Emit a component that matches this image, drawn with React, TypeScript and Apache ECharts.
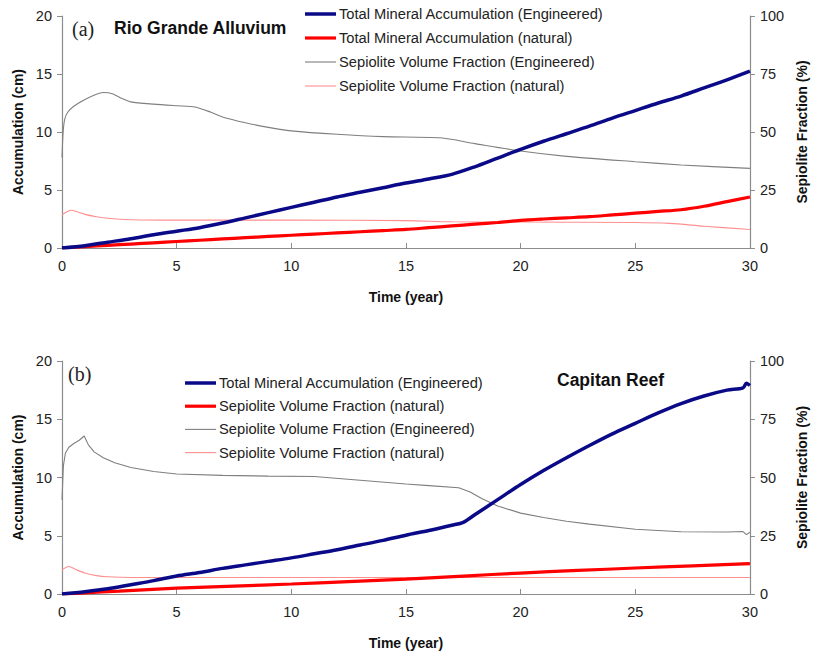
import React, { useEffect, useRef } from "react";
import * as echarts from "echarts";

// ---------- Panel (a): Rio Grande Alluvium ----------
const yearsA = [0, 1, 2, 3, 4, 5, 6, 7, 8, 9, 10, 11, 12, 13, 14, 15, 16, 17, 18, 19, 20, 21, 22, 23, 24, 25, 26, 27, 28, 29, 30];
const accEngA = [0, 0.2, 0.5, 0.8, 1.15, 1.45, 1.75, 2.15, 2.6, 3.05, 3.5, 3.95, 4.4, 4.8, 5.2, 5.6, 5.95, 6.35, 7.0, 7.75, 8.5, 9.2, 9.85, 10.5, 11.2, 11.85, 12.5, 13.1, 13.8, 14.5, 15.25];
const accNatA = [0, 0.12, 0.23, 0.34, 0.45, 0.56, 0.67, 0.78, 0.89, 1.0, 1.1, 1.2, 1.3, 1.4, 1.5, 1.6, 1.75, 1.9, 2.05, 2.2, 2.38, 2.5, 2.6, 2.7, 2.85, 3.0, 3.15, 3.3, 3.6, 4.0, 4.4];
const fracEngTimesA = [0, 0.05, 0.12, 0.25, 0.5, 1, 1.5, 1.8, 2.2, 2.6, 3, 4, 5, 5.8, 6.5, 7, 8, 9, 10, 12, 14, 16.5, 18, 20, 22, 25, 27, 30];
const fracEngA = [39, 50, 55.5, 58.5, 61, 64, 66.3, 67, 66.5, 64.5, 63, 62, 61.3, 60.8, 58.5, 56.5, 54, 52, 50.5, 49, 48, 47.5, 45, 41.8, 39.5, 37.2, 35.8, 34.3];
const fracNatTimesA = [0, 0.2, 0.4, 0.7, 1, 1.5, 2, 3, 5, 10, 15, 17, 20, 25, 26.5, 28, 30];
const fracNatA = [14.3, 15.5, 16.3, 15.5, 14.5, 13.5, 12.8, 12.2, 12, 12, 11.8, 11.3, 11.2, 11, 10.6, 9.4, 8];

// ---------- Panel (b): Capitan Reef ----------
const accEngTimesB = [0, 1, 2, 3, 4, 5, 6, 7, 8, 9, 10, 11, 12, 13, 14, 15, 16, 17, 17.5, 18, 19, 20, 21, 22, 23, 24, 25, 26, 27, 28, 29, 29.7, 29.85, 30];
const accEngB = [0, 0.2, 0.45, 0.8, 1.15, 1.55, 1.85, 2.2, 2.5, 2.8, 3.1, 3.45, 3.8, 4.2, 4.6, 5.05, 5.45, 5.9, 6.15, 6.8, 8.1, 9.4, 10.6, 11.7, 12.75, 13.75, 14.65, 15.55, 16.35, 17.0, 17.5, 17.7, 18.1, 17.9];
const accNatTimesB = [0, 1, 2.5, 5, 7.5, 10, 12.5, 15, 17.5, 20, 22.5, 25, 27.5, 30];
const accNatB = [0, 0.1, 0.25, 0.5, 0.68, 0.86, 1.07, 1.28, 1.54, 1.8, 2.02, 2.23, 2.42, 2.6];
const fracEngTimesB = [0, 0.06, 0.15, 0.3, 0.5, 0.75, 0.97, 1.15, 1.4, 1.8, 2.3, 3, 4, 5, 7, 9, 11, 13, 15, 16, 17.3, 17.8, 18.3, 19, 20, 21, 22, 23, 25, 27, 29, 29.7, 29.85, 30];
const fracEngB = [40.4, 55, 60.5, 63, 64.5, 66, 67.8, 64, 61, 58.5, 56.3, 54.3, 52.6, 51.5, 50.9, 50.6, 50.4, 48.8, 47.2, 46.5, 45.6, 43.8, 41, 37.8, 34.7, 32.8, 31.2, 30, 27.8, 26.7, 26.6, 26.8, 25.5, 26.5];
const fracNatTimesB = [0, 0.15, 0.3, 0.6, 1, 1.5, 2, 3, 30];
const fracNatB = [10.3, 11.3, 11.8, 10.5, 9, 7.9, 7.4, 7.1, 7.1];

// ---------- Axis ticks & labels ----------
const timeTicks = { min: 0, max: 30, interval: 5 };
const accTicks = { min: 0, max: 20, interval: 5 };
const fracTicks = { min: 0, max: 100, interval: 25 };

const legendLabelsA = [
  "Total Mineral Accumulation (Engineered)",
  "Total Mineral Accumulation (natural)",
  "Sepiolite Volume Fraction (Engineered)",
  "Sepiolite Volume Fraction (natural)",
];
const legendLabelsB = [
  "Total Mineral Accumulation (Engineered)",
  "Sepiolite Volume Fraction (natural)",
  "Sepiolite Volume Fraction (Engineered)",
  "Sepiolite Volume Fraction (natural)",
];
const panelTags = ["(a)", "(b)"];
const panelTitles = ["Rio Grande Alluvium", "Capitan Reef"];
const xTitle = "Time (year)";
const yLeftTitle = "Accumulation (cm)";
const yRightTitle = "Sepiolite Fraction (%)";

const NAVY = "#0a0a88";
const RED = "#ff0000";
const GREY = "#7f7f7f";
const PINK = "#ff8f8f";
const FONT = "Liberation Sans, Arial, sans-serif";
const AXIS_COLOR = "#8c8c8c";
const LABEL_COLOR = "#222";

const zip = (t: number[], v: number[]) => t.map((x, i) => [x, v[i]]);

const lineStyles = [
  { color: NAVY, width: 3.5 },
  { color: RED, width: 3.2 },
  { color: GREY, width: 1.1 },
  { color: PINK, width: 1.1 },
];

function makeXAxis(gridIndex: number) {
  return {
    type: "value",
    gridIndex,
    ...timeTicks,
    name: xTitle,
    nameLocation: "middle",
    nameGap: 42,
    nameTextStyle: { fontFamily: FONT, fontWeight: "bold", fontSize: 14, color: "#111" },
    axisLine: { show: true, onZero: false, lineStyle: { color: AXIS_COLOR, width: 1.2 } },
    axisTick: { show: true, inside: true, length: 5, lineStyle: { color: AXIS_COLOR } },
    axisLabel: { fontFamily: FONT, fontSize: 14.5, color: LABEL_COLOR, margin: 10 },
    splitLine: { show: false },
  };
}

function makeYAxes(gridIndex: number) {
  return [
    {
      type: "value",
      gridIndex,
      position: "left",
      ...accTicks,
      name: yLeftTitle,
      nameLocation: "middle",
      nameGap: 36,
      nameTextStyle: { fontFamily: FONT, fontWeight: "bold", fontSize: 14, color: "#111" },
      axisLine: { show: true, lineStyle: { color: AXIS_COLOR, width: 1.2 } },
      axisTick: { show: true, inside: false, length: 5, lineStyle: { color: AXIS_COLOR } },
      axisLabel: { fontFamily: FONT, fontSize: 14.5, color: LABEL_COLOR, margin: 10 },
      splitLine: { show: false },
    },
    {
      type: "value",
      gridIndex,
      position: "right",
      ...fracTicks,
      name: yRightTitle,
      nameLocation: "middle",
      nameGap: 44,
      nameRotate: 90,
      nameTextStyle: { fontFamily: FONT, fontWeight: "bold", fontSize: 14, color: "#111" },
      axisLine: { show: true, lineStyle: { color: AXIS_COLOR, width: 1.2 } },
      axisTick: { show: true, inside: false, length: 5, lineStyle: { color: AXIS_COLOR } },
      axisLabel: { fontFamily: FONT, fontSize: 14.5, color: LABEL_COLOR, margin: 10 },
      splitLine: { show: false },
    },
  ];
}

function lineSeries(name: string, xi: number, yi: number, data: number[][], style: { color: string; width: number }, z: number, smooth: number | boolean) {
  return {
    type: "line",
    name,
    xAxisIndex: xi,
    yAxisIndex: yi,
    data,
    showSymbol: false,
    symbol: "none",
    smooth,
    z,
    lineStyle: { color: style.color, width: style.width },
    itemStyle: { color: style.color },
  };
}

function legendGraphic(labels: string[], x0: number, y0: number, dy: number) {
  const els: any[] = [];
  labels.forEach((lab, i) => {
    const s = lineStyles[i];
    const y = y0 + i * dy;
    els.push({
      type: "line",
      shape: { x1: x0, y1: y, x2: x0 + 31, y2: y },
      style: { stroke: s.color, lineWidth: s.width },
    });
    els.push({
      type: "text",
      x: x0 + 34,
      y,
      style: { text: lab, fontFamily: FONT, fontSize: 14.7, fill: "#222", verticalAlign: "middle", align: "left" },
    });
  });
  return els;
}

export default function App() {
  const ref = useRef<HTMLDivElement>(null);
  useEffect(() => {
    if (!ref.current) return;
    const chart = echarts.init(ref.current, null, { renderer: "svg" });
    const option: any = {
      animation: false,
      backgroundColor: "#ffffff",
      grid: [
        { left: 62, top: 16, width: 688, height: 232 },
        { left: 62, top: 361, width: 696, height: 233 },
      ],
      xAxis: [makeXAxis(0), makeXAxis(1)],
      yAxis: [...makeYAxes(0), ...makeYAxes(1)],
      series: [
        lineSeries("fracNatA", 0, 1, zip(fracNatTimesA, fracNatA), lineStyles[3], 1, 0.3),
        lineSeries("fracEngA", 0, 1, zip(fracEngTimesA, fracEngA), lineStyles[2], 2, 0.25),
        lineSeries("accNatA", 0, 0, zip(yearsA, accNatA), lineStyles[1], 3, 0.3),
        lineSeries("accEngA", 0, 0, zip(yearsA, accEngA), lineStyles[0], 4, 0.3),
        lineSeries("fracNatB", 1, 3, zip(fracNatTimesB, fracNatB), lineStyles[3], 1, 0.3),
        lineSeries("fracEngB", 1, 3, zip(fracEngTimesB, fracEngB), lineStyles[2], 2, false),
        lineSeries("accNatB", 1, 2, zip(accNatTimesB, accNatB), lineStyles[1], 3, 0.3),
        lineSeries("accEngB", 1, 2, zip(accEngTimesB, accEngB), lineStyles[0], 4, 0.3),
      ],
      graphic: [
        ...legendGraphic(legendLabelsA, 305, 14, 24),
        ...legendGraphic(legendLabelsB, 185, 383, 23.2),
        {
          type: "text", x: 72, y: 29,
          style: { text: panelTags[0], fontFamily: "Liberation Serif, Times New Roman, serif", fontSize: 20, fill: "#222", verticalAlign: "middle" },
        },
        {
          type: "text", x: 114, y: 28,
          style: { text: panelTitles[0], fontFamily: FONT, fontWeight: "bold", fontSize: 17.5, fill: "#111", verticalAlign: "middle" },
        },
        {
          type: "text", x: 68, y: 374,
          style: { text: panelTags[1], fontFamily: "Liberation Serif, Times New Roman, serif", fontSize: 20, fill: "#222", verticalAlign: "middle" },
        },
        {
          type: "text", x: 557, y: 380,
          style: { text: panelTitles[1], fontFamily: FONT, fontWeight: "bold", fontSize: 17.5, fill: "#111", verticalAlign: "middle" },
        },
      ],
    };
    chart.setOption(option);
    return () => chart.dispose();
  }, []);
  return (
    <div
      ref={ref}
      style={{ position: "fixed", left: 0, top: 0, width: 817, height: 656, background: "#fff" }}
    />
  );
}
